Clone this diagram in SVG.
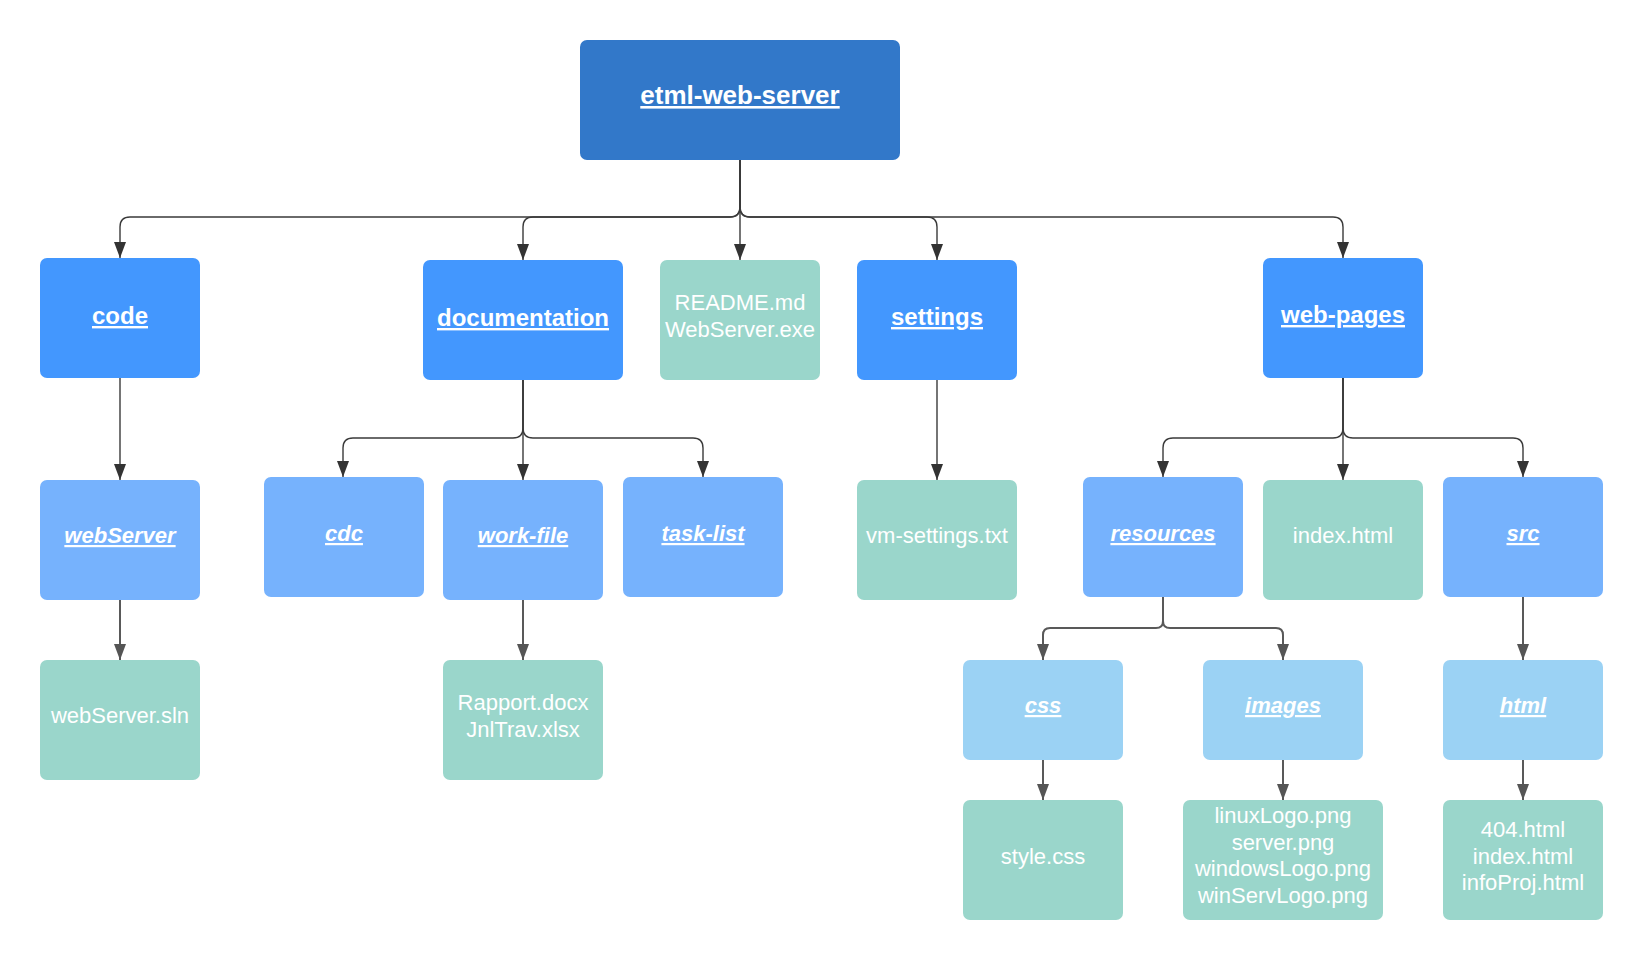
<svg xmlns="http://www.w3.org/2000/svg" width="1640" height="960" viewBox="0 0 1640 960">
<style>
  text { font-family: "Liberation Sans", Arial, sans-serif; fill: #ffffff; text-anchor: middle; }
  .root { fill: #3278C9; }
  .l1 { fill: #4397FE; }
  .l2 { fill: #76B2FD; }
  .l3 { fill: #9BD2F4; }
  .file { fill: #9AD6CB; }
  .t0 { font-size: 26px; font-weight: bold; text-decoration: underline; }
  .t1 { font-size: 24px; font-weight: bold; text-decoration: underline; }
  .t2 { font-size: 22px; font-weight: bold; font-style: italic; text-decoration: underline; }
  .tf { font-size: 22px; }
  .c1 { fill: none; stroke: #3a3a3a; stroke-width: 1.4; marker-end: url(#ah1); }
  .c2 { fill: none; stroke: #595959; stroke-width: 2; marker-end: url(#ah2); }
</style>
<defs>
  <marker id="ah1" viewBox="0 0 16 12" refX="16" refY="6" markerWidth="16" markerHeight="12" markerUnits="userSpaceOnUse" orient="auto">
    <path d="M0,0 L16,6 L0,12 Z" fill="#333333"/>
  </marker>
  <marker id="ah2" viewBox="0 0 16 12" refX="16" refY="6" markerWidth="16" markerHeight="12" markerUnits="userSpaceOnUse" orient="auto">
    <path d="M0,0 L16,6 L0,12 Z" fill="#555555"/>
  </marker>
</defs>
<rect width="1640" height="960" fill="#ffffff"/>

<g id="connectors">
  <path class="c1" d="M740,160 V207 Q740,217 730,217 H130 Q120,217 120,227 V258"/>
  <path class="c1" d="M740,160 V207 Q740,217 730,217 H533 Q523,217 523,227 V260"/>
  <path class="c1" d="M740,160 V260"/>
  <path class="c1" d="M740,160 V207 Q740,217 750,217 H927 Q937,217 937,227 V260"/>
  <path class="c1" d="M740,160 V207 Q740,217 750,217 H1333 Q1343,217 1343,227 V258"/>

  <path class="c1" d="M120,378 V480"/>
  <path class="c1" d="M523,380 V428 Q523,438 513,438 H353 Q343,438 343,448 V477"/>
  <path class="c1" d="M523,380 V480"/>
  <path class="c1" d="M523,380 V428 Q523,438 533,438 H693 Q703,438 703,448 V477"/>
  <path class="c1" d="M937,380 V480"/>
  <path class="c1" d="M1343,378 V428 Q1343,438 1333,438 H1173 Q1163,438 1163,448 V477"/>
  <path class="c1" d="M1343,378 V480"/>
  <path class="c1" d="M1343,378 V428 Q1343,438 1353,438 H1513 Q1523,438 1523,448 V477"/>

  <path class="c2" d="M120,600 V660"/>
  <path class="c2" d="M523,600 V660"/>
  <path class="c2" d="M1163,597 V621 Q1163,628 1156,628 H1050 Q1043,628 1043,635 V660"/>
  <path class="c2" d="M1163,597 V621 Q1163,628 1170,628 H1276 Q1283,628 1283,635 V660"/>
  <path class="c2" d="M1523,597 V660"/>
  <path class="c2" d="M1043,760 V800"/>
  <path class="c2" d="M1283,760 V800"/>
  <path class="c2" d="M1523,760 V800"/>
</g>

<g id="etml-web-server">
  <rect class="root" x="580" y="40" width="320" height="120" rx="7"/>
  <text class="t0" x="740" y="104">etml-web-server</text>
</g>

<g id="code">
  <rect class="l1" x="40" y="258" width="160" height="120" rx="7"/>
  <text class="t1" x="120" y="324">code</text>
</g>
<g id="documentation">
  <rect class="l1" x="423" y="260" width="200" height="120" rx="7"/>
  <text class="t1" x="523" y="326">documentation</text>
</g>
<g id="readme">
  <rect class="file" x="660" y="260" width="160" height="120" rx="7"/>
  <text class="tf" x="740" y="310">README.md</text>
  <text class="tf" x="740" y="337">WebServer.exe</text>
</g>
<g id="settings">
  <rect class="l1" x="857" y="260" width="160" height="120" rx="7"/>
  <text class="t1" x="937" y="325">settings</text>
</g>
<g id="web-pages">
  <rect class="l1" x="1263" y="258" width="160" height="120" rx="7"/>
  <text class="t1" x="1343" y="323">web-pages</text>
</g>

<g id="webServer">
  <rect class="l2" x="40" y="480" width="160" height="120" rx="7"/>
  <text class="t2" x="120" y="543">webServer</text>
</g>
<g id="cdc">
  <rect class="l2" x="264" y="477" width="160" height="120" rx="7"/>
  <text class="t2" x="344" y="541">cdc</text>
</g>
<g id="work-file">
  <rect class="l2" x="443" y="480" width="160" height="120" rx="7"/>
  <text class="t2" x="523" y="543">work-file</text>
</g>
<g id="task-list">
  <rect class="l2" x="623" y="477" width="160" height="120" rx="7"/>
  <text class="t2" x="703" y="541">task-list</text>
</g>
<g id="vm-settings">
  <rect class="file" x="857" y="480" width="160" height="120" rx="7"/>
  <text class="tf" x="937" y="543">vm-settings.txt</text>
</g>
<g id="resources">
  <rect class="l2" x="1083" y="477" width="160" height="120" rx="7"/>
  <text class="t2" x="1163" y="541">resources</text>
</g>
<g id="index-html">
  <rect class="file" x="1263" y="480" width="160" height="120" rx="7"/>
  <text class="tf" x="1343" y="543">index.html</text>
</g>
<g id="src">
  <rect class="l2" x="1443" y="477" width="160" height="120" rx="7"/>
  <text class="t2" x="1523" y="541">src</text>
</g>

<g id="webServer-sln">
  <rect class="file" x="40" y="660" width="160" height="120" rx="7"/>
  <text class="tf" x="120" y="723">webServer.sln</text>
</g>
<g id="work-files">
  <rect class="file" x="443" y="660" width="160" height="120" rx="7"/>
  <text class="tf" x="523" y="710">Rapport.docx</text>
  <text class="tf" x="523" y="737">JnlTrav.xlsx</text>
</g>
<g id="css">
  <rect class="l3" x="963" y="660" width="160" height="100" rx="7"/>
  <text class="t2" x="1043" y="713">css</text>
</g>
<g id="images">
  <rect class="l3" x="1203" y="660" width="160" height="100" rx="7"/>
  <text class="t2" x="1283" y="713">images</text>
</g>
<g id="html">
  <rect class="l3" x="1443" y="660" width="160" height="100" rx="7"/>
  <text class="t2" x="1523" y="713">html</text>
</g>
<g id="style-css">
  <rect class="file" x="963" y="800" width="160" height="120" rx="7"/>
  <text class="tf" x="1043" y="864">style.css</text>
</g>
<g id="image-files">
  <rect class="file" x="1183" y="800" width="200" height="120" rx="7"/>
  <text class="tf" x="1283" y="823">linuxLogo.png</text>
  <text class="tf" x="1283" y="849.5">server.png</text>
  <text class="tf" x="1283" y="876">windowsLogo.png</text>
  <text class="tf" x="1283" y="902.5">winServLogo.png</text>
</g>
<g id="html-files">
  <rect class="file" x="1443" y="800" width="160" height="120" rx="7"/>
  <text class="tf" x="1523" y="837">404.html</text>
  <text class="tf" x="1523" y="863.5">index.html</text>
  <text class="tf" x="1523" y="890">infoProj.html</text>
</g>
</svg>
